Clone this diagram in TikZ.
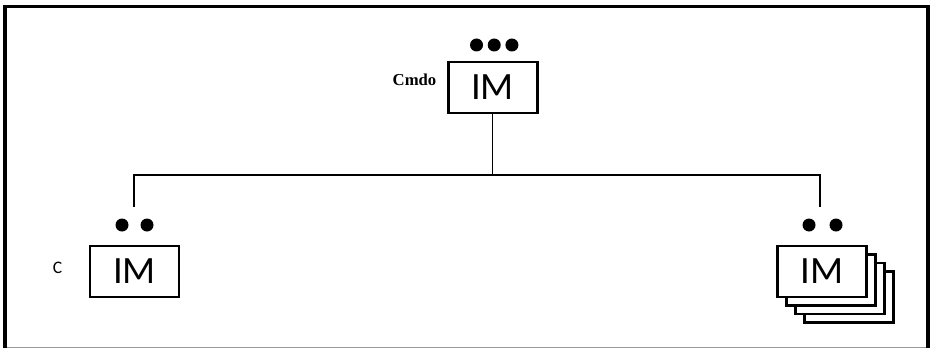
\documentclass[tikz,border=0pt]{standalone}
\usepackage{fontspec}
\setmainfont{Carlito}
\newfontfamily\tagfont{Liberation Serif}
\usepackage{tikz}
\usetikzlibrary{positioning}
\definecolor{FrameBlack}{HTML}{000000}
\definecolor{FrameGray}{HTML}{9A9A9A}
\colorlet{UnitLine}{FrameBlack}
\tikzset{
  unitbox/.style={draw=UnitLine, line width=1.7pt, fill=white, minimum width=1.78cm, minimum height=1.02cm, inner sep=0pt, font=\fontsize{22}{22}\selectfont},
  unitdot/.style={circle, fill=UnitLine, inner sep=0pt, minimum size=0.26cm},
  link/.style={draw=UnitLine, line width=1.1pt},
}

\begin{document}
\begin{tikzpicture}
    \useasboundingbox (0,0) rectangle (18.6,6.98);

    % Frame
    \draw[FrameGray, line width=0.5pt] (0.1,0.03) -- (18.56,0.03);
    \draw[FrameBlack, line width=2pt] (0.1,0.03) -- (0.1,6.85) -- (18.56,6.85) -- (18.56,0.03);

    % Command unit
    \node[unitbox] (cmdo) at (9.85,5.23) {IM};
    \node[anchor=east, font=\tagfont\bfseries\fontsize{9.5}{9.5}\selectfont] (cmdotag) at ([xshift=-0.08cm, yshift=0.15cm]cmdo.west) {Cmdo};
    \node[unitdot] (cdot1) at (9.53,6.08) {};
    \node[unitdot, right=0.08cm of cdot1] (cdot2) {};
    \node[unitdot, right=0.08cm of cdot2] (cdot3) {};

    % Left unit
    \node[unitbox] (left) at (2.69,1.55) {IM};
    \node[anchor=east, font=\fontsize{10}{10}\selectfont] (lefttag) at ([xshift=-0.4cm, yshift=0.08cm]left.west) {C};
    \node[unitdot] (ldot1) at (2.44,2.48) {};
    \node[unitdot] (ldot2) at (2.94,2.48) {};

    % Right unit (stacked)
    \foreach \k in {3,2,1} {
        \node[unitbox] (right\k) at (16.44+0.18*\k,1.55-0.17*\k) {};
    }
    \node[unitbox] (right) at (16.44,1.55) {IM};
    \node[unitdot] (rdot1) at (16.18,2.48) {};
    \node[unitdot] (rdot2) at (16.72,2.48) {};

    % Links
    \coordinate (bar) at (9.8,3.48);
    \coordinate (lend) at (2.68,2.84);
    \coordinate (rend) at (16.4,2.84);
    \draw[link] (cmdo.south) -- (cmdo.south |- bar);
    \draw[link] (lend) -- (lend |- bar) -- (rend |- bar) -- (rend);

\end{tikzpicture}
\end{document}
